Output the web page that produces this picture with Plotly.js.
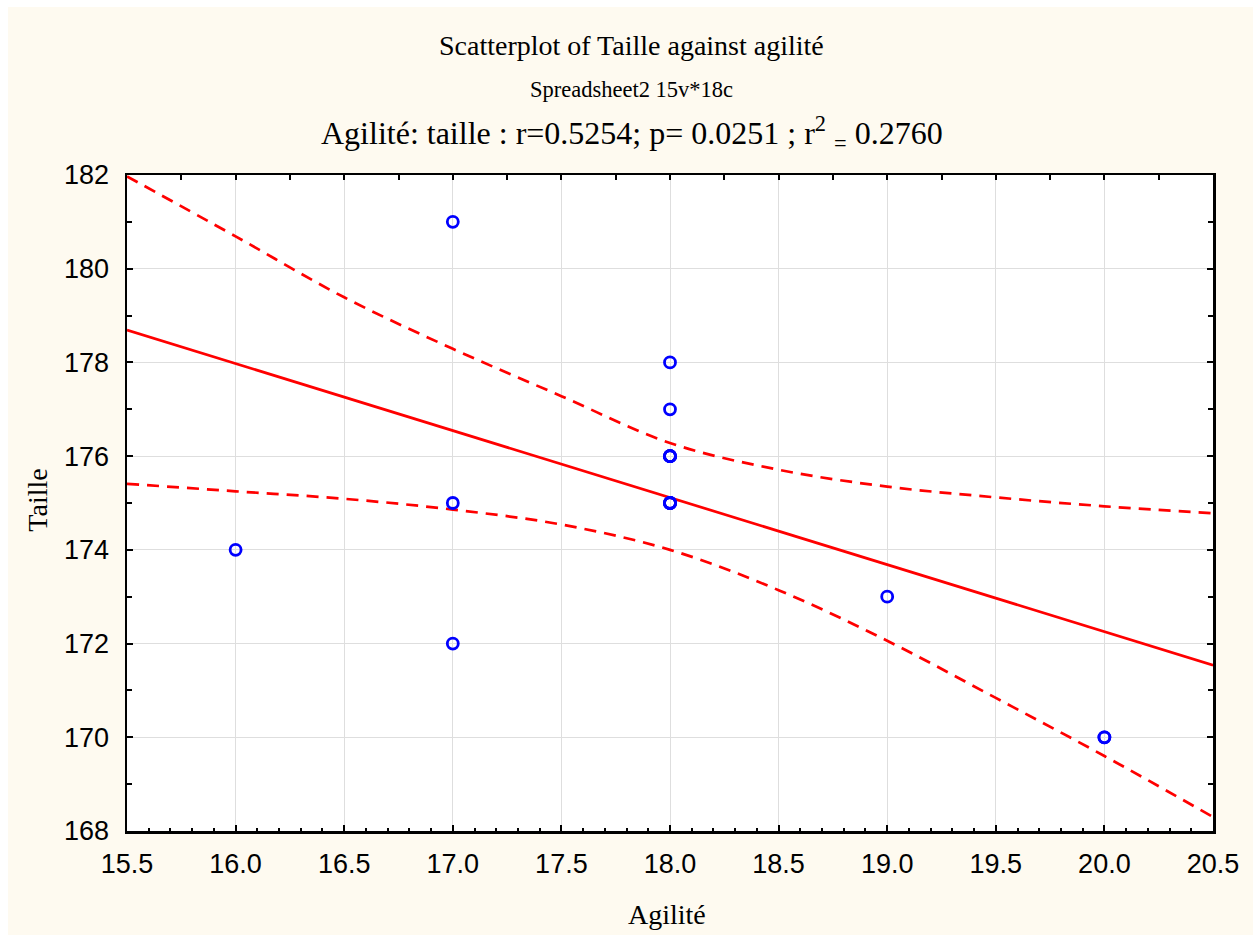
<!DOCTYPE html>
<html>
<head>
<meta charset="utf-8">
<script src="https://cdn.plot.ly/plotly-3.0.1.min.js"></script>
<style>
  html, body { margin: 0; padding: 0; background: #ffffff; width: 1259px; height: 938px; overflow: hidden; }
  #chart { position: absolute; left: 8px; top: 7px; width: 1245px; height: 928px; }
</style>
</head>
<body>
<div id="chart"></div>
<script>
// Scatter data (18 cases; repeated cases overlap)
const agilite = [16, 17, 17, 17, 18, 18, 18, 18, 18, 18, 18, 18, 18, 18, 18, 19, 20, 20];
const taille  = [174, 181, 175, 172, 178, 177, 176, 176, 176, 176, 176, 175, 175, 175, 175, 173, 170, 170];

// Fitted regression line
const fitX = [15.5, 20.5];
const fitY = [178.69, 171.54];

// 95% confidence band
const bandX = [15.5, 16.0, 16.5, 17.0, 17.5, 18.0, 18.5, 19.0, 19.5, 20.0, 20.5];
const bandUpper = [181.97, 180.69, 179.39, 178.29, 177.28, 176.28, 175.71, 175.35, 175.12, 174.93, 174.78];
const bandLower = [175.41, 175.25, 175.09, 174.86, 174.54, 174.00, 173.14, 172.06, 170.84, 169.60, 168.30];

const xTickVals = [15.5, 16.0, 16.5, 17.0, 17.5, 18.0, 18.5, 19.0, 19.5, 20.0, 20.5];
const yTickVals = [168, 170, 172, 174, 176, 178, 180, 182];

const titleMain = "Scatterplot of Taille against agilité";
const titleSub = "Spreadsheet2 15v*18c";
const titleStat = "Agilité: taille : r=0.5254; p= 0.0251 ; r<sup>2</sup> <sub>=</sub> 0.2760";
const xTitle = "Agilité";
const yTitle = "Taille";

const red = "#ff0000";
const blue = "#0000ff";
const serif = "Liberation Serif, Times New Roman, serif";
const sans = "Liberation Sans, Arial, sans-serif";

const traces = [
  { x: bandX, y: bandUpper, mode: "lines", line: { color: red, width: 2.7, dash: "12px,8px", shape: "spline" }, hoverinfo: "skip" },
  { x: bandX, y: bandLower, mode: "lines", line: { color: red, width: 2.7, dash: "12px,8px", shape: "spline" }, hoverinfo: "skip" },
  { x: fitX, y: fitY, mode: "lines", line: { color: red, width: 2.7 }, hoverinfo: "skip" },
  { x: agilite, y: taille, mode: "markers",
    marker: { symbol: "circle-open", size: 11, color: blue, line: { color: blue, width: 2.8 } }, hoverinfo: "skip" },
  { x: agilite, y: taille, xaxis: "x2", mode: "markers", marker: { opacity: 0 }, hoverinfo: "skip" }
];

const tickFont = { family: sans, size: 27, color: "#000000" };

const layout = {
  width: 1245, height: 928,
  margin: { l: 119, r: 40, t: 168, b: 104 },
  paper_bgcolor: "#fefaf0",
  plot_bgcolor: "#ffffff",
  showlegend: false,
  hovermode: false,
  xaxis: {
    range: [15.5, 20.5], tickvals: xTickVals, ticktext: xTickVals.map(v => v.toFixed(1)),
    ticks: "inside", ticklen: 6, tickwidth: 2, tickcolor: "#000000",
    showline: true, linewidth: 2.5, linecolor: "#000000", mirror: false,
    showgrid: true, gridcolor: "#dedede", gridwidth: 1, zeroline: false,
    tickfont: tickFont, ticklabelstandoff: 7,
    minor: { dtick: 0.1, tick0: 15.5, ticks: "inside", ticklen: 3, tickwidth: 2, tickcolor: "#000000", showgrid: false }
  },
  xaxis2: {
    overlaying: "x", side: "top", anchor: "y", range: [15.5, 20.5], dtick: 0.25, tick0: 15.5,
    ticks: "inside", ticklen: 5, tickwidth: 2, tickcolor: "#000000",
    showticklabels: false, showgrid: false, zeroline: false,
    showline: true, linewidth: 2.5, linecolor: "#000000"
  },
  yaxis: {
    range: [168, 182], tickvals: yTickVals,
    ticks: "inside", ticklen: 6, tickwidth: 2, tickcolor: "#000000",
    showline: true, linewidth: 2.5, linecolor: "#000000", mirror: "ticks",
    showgrid: true, gridcolor: "#dedede", gridwidth: 1, zeroline: false,
    tickfont: tickFont, ticklabelstandoff: 10,
    minor: { dtick: 1, ticks: "inside", ticklen: 5, tickwidth: 2, tickcolor: "#000000", showgrid: false }
  },
  annotations: [
    { text: titleMain, xref: "paper", yref: "paper", x: 0.465, y: 1.198, showarrow: false,
      xanchor: "center", yanchor: "middle", font: { family: serif, size: 28, color: "#000000" } },
    { text: titleSub, xref: "paper", yref: "paper", x: 0.465, y: 1.1296, showarrow: false,
      xanchor: "center", yanchor: "middle", font: { family: serif, size: 22.5, color: "#000000" } },
    { text: titleStat, xref: "paper", yref: "paper", x: 0.465, y: 1.064, showarrow: false,
      xanchor: "center", yanchor: "middle", font: { family: serif, size: 32, color: "#000000" } },
    { text: xTitle, xref: "paper", yref: "paper", x: 0.497, y: -0.128, showarrow: false,
      xanchor: "center", yanchor: "middle", font: { family: serif, size: 28, color: "#000000" } },
    { text: yTitle, xref: "paper", yref: "paper", x: -0.082, y: 0.505, showarrow: false, textangle: -90,
      xanchor: "center", yanchor: "middle", font: { family: serif, size: 28, color: "#000000" } }
  ]
};

Plotly.newPlot("chart", traces, layout, { staticPlot: true, displayModeBar: false });
</script>
</body>
</html>
